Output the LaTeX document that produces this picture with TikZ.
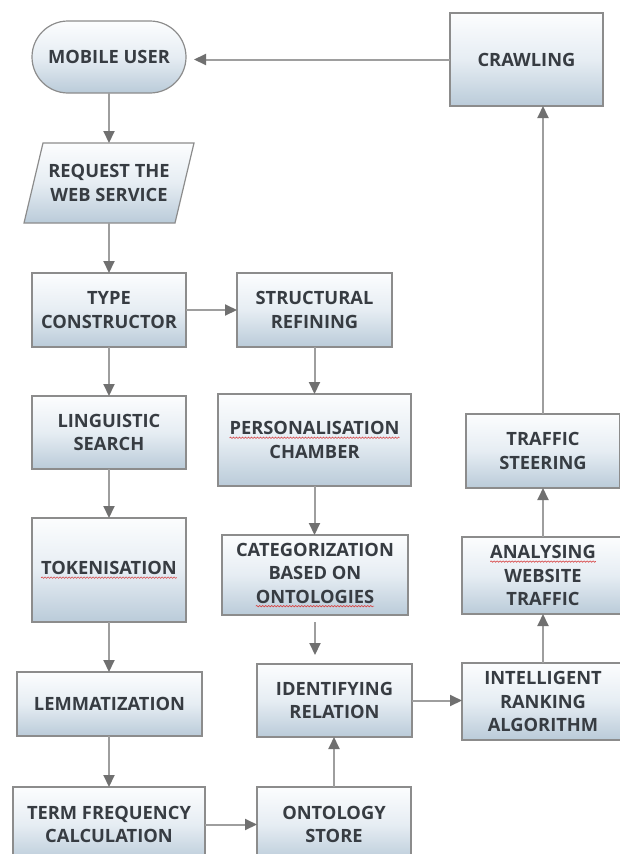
\documentclass[tikz,border=0pt]{standalone}
\usepackage{fontspec}
\setmainfont{Open Sans}
\usetikzlibrary{arrows.meta,decorations.pathmorphing}
\definecolor{boxtop}{RGB}{252,253,254}
\definecolor{boxmid}{RGB}{230,237,243}
\definecolor{boxbot}{RGB}{186,203,217}
\definecolor{boxedge}{RGB}{140,140,140}
\definecolor{linegray}{RGB}{158,158,158}
\definecolor{tipgray}{RGB}{112,112,112}
\definecolor{txt}{RGB}{55,60,66}
\definecolor{spellred}{RGB}{215,70,70}
\newcommand\spellwave[1]{\tikz[baseline=(w.base)]{\node[inner sep=0pt,outer sep=0pt,minimum size=0pt](w){#1};
  \draw[spellred, line width=0.6pt, decorate, decoration={snake, amplitude=0.7pt, segment length=3pt}]
   ([yshift=-3pt]w.base west) -- ([yshift=-3pt]w.base east);}}
\tikzset{
  boxfill/.style={top color=boxtop, bottom color=boxbot, middle color=boxmid},
  box/.style={boxfill, draw=boxedge, line width=1.2pt, align=center, text=txt,
    font=\bfseries\fontsize{18.3}{23.5}\selectfont, inner sep=0pt, outer sep=0pt},
  plain/.style={align=center, text=txt, font=\bfseries\fontsize{18.3}{23.5}\selectfont,
    inner sep=0pt, outer sep=0pt},
  arr/.style={draw=linegray, line width=2pt, -{Triangle[length=12pt,width=11pt,color=tipgray]}}
}
\begin{document}
\begin{tikzpicture}[x=1pt,y=-1pt]
\useasboundingbox (0,0) rectangle (620,854);
\clip (0,0) rectangle (620,854);
% nodes
\node[box, rounded corners=36pt, minimum width=154pt, minimum height=72pt] (mu) at (109,57) {MOBILE USER};
\path[boxfill, draw=boxedge, line width=1.2pt] (43,143) -- (194,143) -- (175,223) -- (24,223) -- cycle;
\node[plain, minimum width=130pt, minimum height=80pt] (rws) at (109,183) {REQUEST THE\\WEB SERVICE};
\node[box, minimum width=153pt, minimum height=93pt] (cr) at (526.5,59.5) {CRAWLING};
\node[box, minimum width=154pt, minimum height=74pt] (tc) at (109,310) {TYPE\\CONSTRUCTOR};
\node[box, minimum width=155pt, minimum height=74pt] (sr) at (314.5,310) {STRUCTURAL\\REFINING};
\node[box, minimum width=154pt, minimum height=73pt] (ls) at (109,432.5) {LINGUISTIC\\SEARCH};
\node[box, minimum width=193pt, minimum height=92pt] (pc) at (314.5,440) {\spellwave{PERSONALISATION}\\CHAMBER};
\node[box, minimum width=154pt, minimum height=74pt] (ts) at (543,451) {TRAFFIC\\STEERING};
\node[box, minimum width=154pt, minimum height=104pt] (tok) at (109,570) {\spellwave{TOKENISATION}};
\node[box, minimum width=186pt, minimum height=80pt] (cat) at (315,575) {CATEGORIZATION\\BASED ON\\\spellwave{ONTOLOGIES}};
\node[box, minimum width=162pt, minimum height=77pt] (awt) at (543,575.5) {\spellwave{ANALYSING}\\WEBSITE\\TRAFFIC};
\node[box, minimum width=155pt, minimum height=73pt] (ir) at (334.5,700.5) {IDENTIFYING\\RELATION};
\node[box, minimum width=162pt, minimum height=77pt] (ira) at (543,701.5) {INTELLIGENT\\RANKING\\ALGORITHM};
\node[box, minimum width=185pt, minimum height=64pt] (lem) at (109.5,704) {LEMMATIZATION};
\node[box, minimum width=192pt, minimum height=75pt] (tfc) at (109,824.5) {TERM FREQUENCY\\CALCULATION};
\node[box, minimum width=154pt, minimum height=75pt] (os) at (334,824.5) {ONTOLOGY\\STORE};
% connectors
\draw[arr] (mu.south) -- (rws.north);
\draw[arr] (rws.south) -- (tc.north);
\draw[arr] (tc.south) -- (ls.north);
\draw[arr] (ls.south) -- (tok.north);
\draw[arr] (tok.south) -- (tok.south |- lem.north);
\draw[arr] (lem.south -| tfc.north) -- (tfc.north);
\draw[arr] (tfc.east) -- (os.west);
\draw[arr] (os.north) -- (os.north |- ir.south);
\draw[arr] (tc.east) -- (sr.west);
\draw[arr] (sr.south) -- (sr.south |- pc.north);
\draw[arr] (pc.south) -- (pc.south |- cat.north);
\draw[arr, shorten <=7pt, shorten >=9pt] (cat.south) -- (cat.south |- ir.north);
\draw[arr] (ir.east) -- (ir.east -| ira.west);
\draw[arr] (ira.north) -- (awt.south);
\draw[arr] (awt.north) -- (awt.north |- ts.south);
\draw[arr] (ts.north) -- (ts.north |- cr.south);
\draw[arr, shorten >=8pt] (cr.west) -- (cr.west -| mu.east);
\end{tikzpicture}
\end{document}
